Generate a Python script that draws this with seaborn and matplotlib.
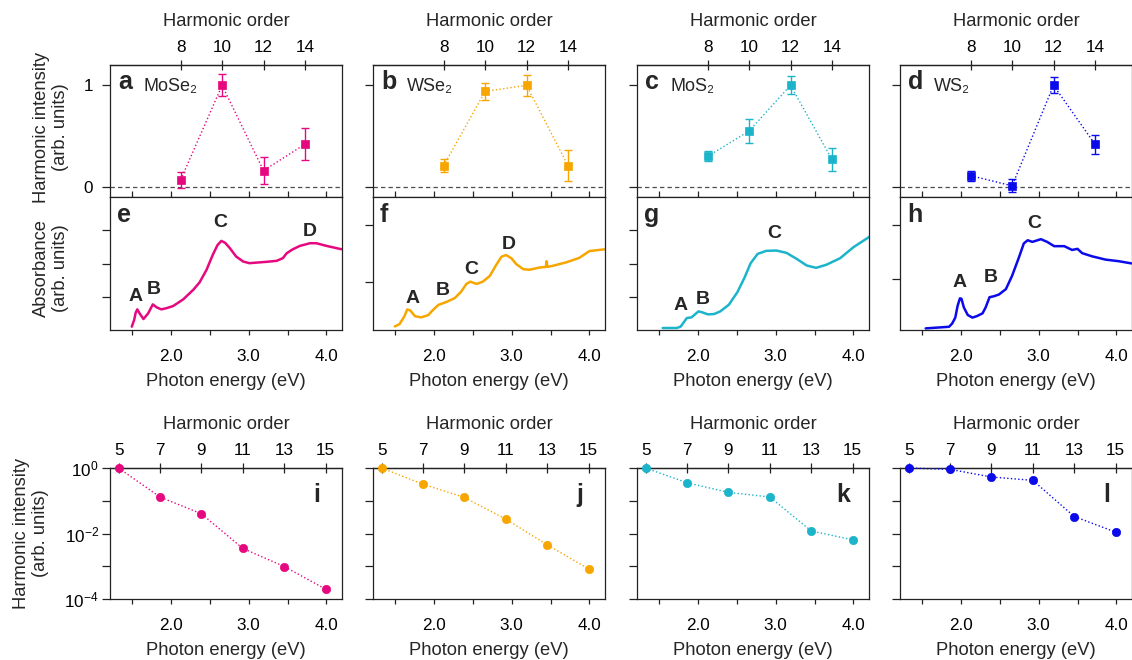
import matplotlib
matplotlib.use("Agg")
import matplotlib.pyplot as plt
from matplotlib.ticker import NullLocator, FixedLocator
import seaborn as sns

MATERIALS = ["MoSe\u2082", "WSe\u2082", "MoS\u2082", "WS\u2082"]
COLORS = ["#E6087F", "#F7A600", "#1CB4CA", "#0A0AEB"]
FUNDAMENTAL = 0.266  # eV, photon energy of the driving laser

# a-d: even harmonics (normalised)
even_orders = [8, 10, 12, 14]
even_int = [
    [0.07, 1.00, 0.16, 0.42],
    [0.21, 0.94, 1.00, 0.21],
    [0.30, 0.55, 1.00, 0.27],
    [0.11, 0.01, 1.00, 0.42],
]
even_err = [
    [0.08, 0.11, 0.13, 0.155],
    [0.06, 0.08, 0.105, 0.15],
    [0.05, 0.12, 0.09, 0.115],
    [0.05, 0.065, 0.08, 0.095],
]

# e-h: absorbance spectra (arb. units)
abs_e_x = [1.50, 1.53, 1.55, 1.57, 1.60, 1.65, 1.71, 1.77, 1.82, 1.88, 1.95, 2.03, 2.16, 2.29,
           2.37, 2.46, 2.54, 2.60, 2.65, 2.70, 2.76, 2.84, 2.93, 3.01, 3.23, 3.36, 3.44, 3.49,
           3.57, 3.66, 3.79, 3.87, 4.00, 4.19]
abs_e_y = [0.10, 0.30, 0.52, 0.62, 0.50, 0.33, 0.50, 0.77, 0.68, 0.62, 0.66, 0.72, 0.92, 1.21,
           1.43, 1.81, 2.26, 2.55, 2.68, 2.62, 2.46, 2.21, 2.06, 2.01, 2.05, 2.08, 2.16, 2.31,
           2.43, 2.53, 2.61, 2.61, 2.53, 2.43]
abs_f_x = [1.50, 1.56, 1.62, 1.66, 1.70, 1.76, 1.84, 1.93, 1.99, 2.06, 2.16, 2.27, 2.35, 2.42,
           2.47, 2.55, 2.63, 2.72, 2.80, 2.87, 2.93, 3.00, 3.06, 3.15, 3.23, 3.36, 3.44, 3.45,
           3.46, 3.53, 3.70, 3.87, 4.00, 4.19]
abs_f_y = [0.21, 0.25, 0.38, 0.51, 0.49, 0.39, 0.37, 0.41, 0.50, 0.59, 0.64, 0.71, 0.82, 0.96,
           1.00, 0.96, 1.00, 1.10, 1.29, 1.44, 1.47, 1.41, 1.31, 1.22, 1.21, 1.25, 1.26, 1.36,
           1.26, 1.28, 1.34, 1.42, 1.54, 1.57]
abs_g_x = [1.55, 1.73, 1.78, 1.82, 1.86, 1.92, 1.96, 2.01, 2.06, 2.13, 2.21, 2.29, 2.40, 2.51,
           2.60, 2.68, 2.77, 2.88, 3.01, 3.14, 3.27, 3.40, 3.52, 3.65, 3.83, 4.00, 4.21]
abs_g_y = [0.06, 0.06, 0.10, 0.23, 0.36, 0.38, 0.46, 0.56, 0.53, 0.47, 0.48, 0.56, 0.76, 1.14,
           1.57, 2.01, 2.29, 2.38, 2.39, 2.32, 2.14, 1.94, 1.87, 1.96, 2.16, 2.49, 2.81]
abs_h_x = [1.55, 1.85, 1.89, 1.93, 1.96, 1.99, 2.01, 2.04, 2.09, 2.15, 2.21, 2.28, 2.32, 2.37,
           2.43, 2.49, 2.58, 2.66, 2.75, 2.81, 2.86, 2.92, 3.03, 3.11, 3.20, 3.33, 3.43, 3.50,
           3.56, 3.69, 3.86, 4.03, 4.19]
abs_h_y = [0.08, 0.11, 0.17, 0.28, 0.50, 0.64, 0.63, 0.47, 0.33, 0.28, 0.31, 0.36, 0.47, 0.66,
           0.68, 0.71, 0.81, 1.06, 1.41, 1.66, 1.72, 1.69, 1.74, 1.69, 1.61, 1.61, 1.54, 1.56,
           1.48, 1.42, 1.36, 1.33, 1.29]
abs_x = [abs_e_x, abs_f_x, abs_g_x, abs_h_x]
abs_y = [abs_e_y, abs_f_y, abs_g_y, abs_h_y]
abs_ylim = [(0, 4.0), (0.147, 2.494), (0, 4.0), (0.05, 2.525)]
abs_yticks = [[1, 2, 3], [1, 2], [1, 2, 3], [1, 2]]

# exciton labels (name, energy, absorbance)
peak_labels = [
    [("A", 1.55, 1.00), ("B", 1.78, 1.21), ("C", 2.63, 3.22), ("D", 3.79, 2.96)],
    [("A", 1.73, 0.71), ("B", 2.12, 0.84), ("C", 2.48, 1.22), ("D", 2.97, 1.65)],
    [("A", 1.78, 0.73), ("B", 2.06, 0.93), ("C", 2.98, 2.89)],
    [("A", 1.98, 0.94), ("B", 2.385, 1.02), ("C", 2.94, 2.03)],
]

# i-l: odd harmonics (normalised, log scale)
odd_orders = [5, 7, 9, 11, 13, 15]
odd_int = [
    [1.0, 0.13, 0.040, 0.0035, 9.8e-4, 2.0e-4],
    [1.0, 0.32, 0.126, 0.0275, 0.0045, 8.3e-4],
    [1.0, 0.355, 0.18, 0.13, 0.012, 0.0064],
    [1.0, 0.91, 0.53, 0.42, 0.033, 0.011],
]

LETTERS = [["a", "b", "c", "d"], ["e", "f", "g", "h"], ["i", "j", "k", "l"]]

sns.set_theme(style="ticks")
plt.rcParams["font.family"] = ["Liberation Sans", "DejaVu Sans"]
plt.rcParams["mathtext.fontset"] = "custom"
plt.rcParams["mathtext.rm"] = "Liberation Sans"
plt.rcParams["mathtext.it"] = "Liberation Sans:italic"
plt.rcParams["mathtext.bf"] = "Liberation Sans:bold"
plt.rcParams["axes.linewidth"] = 0.9
plt.rcParams["axes.edgecolor"] = "#222222"
plt.rcParams["xtick.color"] = "#222222"
plt.rcParams["ytick.color"] = "#222222"
plt.rcParams["xtick.labelcolor"] = "black"
plt.rcParams["ytick.labelcolor"] = "black"

W, H = 1132, 660
COL_X = [110, 373, 637, 900]
PANEL_W = 232
ROWS = [(65, 197), (197, 330), (468, 599)]
XLIM = (1.22, 4.2)
TICK_FS = 12.3
LABEL_FS = 13.2
LETTER_FS = 18
PEAK_FS = 14


def box(col, row):
    top, bot = ROWS[row]
    return [COL_X[col] / W, 1 - bot / H, PANEL_W / W, (bot - top) / H]


def energy_axis(ax, labels):
    ax.set_xlim(*XLIM)
    ax.set_xticks([2, 3, 4])
    ax.xaxis.set_minor_locator(FixedLocator([1.5, 2.5, 3.5]))
    if labels:
        ax.set_xticklabels(["2.0", "3.0", "4.0"])
        ax.tick_params(axis="x", which="both", direction="out", length=3.5, width=0.9,
                       pad=10, labelsize=TICK_FS)
        ax.set_xlabel("Photon energy (eV)", fontsize=LABEL_FS, labelpad=7)
    else:
        ax.tick_params(axis="x", which="both", direction="in", length=4, width=0.9,
                       labelbottom=False)


def order_axis(ax, orders):
    sec = ax.secondary_xaxis("top", functions=(lambda e: e / FUNDAMENTAL,
                                               lambda n: n * FUNDAMENTAL))
    sec.set_xticks(orders)
    sec.set_xticklabels([str(n) for n in orders])
    sec.xaxis.set_minor_locator(NullLocator())
    sec.tick_params(axis="x", direction="inout", length=6.5, width=0.9, pad=4,
                    labelsize=TICK_FS)
    sec.set_xlabel("Harmonic order", fontsize=LABEL_FS, labelpad=10)


fig = plt.figure(figsize=(W / 100, H / 100), dpi=100)

for i in range(4):
    color = COLORS[i]

    # top row: even harmonics
    ax = fig.add_axes(box(i, 0))
    e_even = [n * FUNDAMENTAL for n in even_orders]
    ax.axhline(0, color="0.3", lw=0.9, ls=(0, (3.5, 2.5)), zorder=1)
    ax.errorbar(e_even, even_int[i], yerr=even_err[i], fmt="none", ecolor=color,
                elinewidth=1.0, capsize=2.6, capthick=1.0, zorder=2)
    sns.lineplot(x=e_even, y=even_int[i], ax=ax, color=color, lw=1.0, linestyle=":",
                 marker="s", markersize=5.5, markeredgecolor=color, markeredgewidth=0.5,
                 zorder=3)
    ax.set_ylim(-0.1, 1.2)
    ax.set_yticks([0, 1])
    ax.tick_params(axis="y", direction="out", length=6, width=0.9, pad=6,
                   labelsize=TICK_FS, labelleft=(i == 0))
    energy_axis(ax, labels=False)
    order_axis(ax, even_orders)
    ax.text(0.035, 0.815, LETTERS[0][i], transform=ax.transAxes, fontsize=LETTER_FS,
            fontweight="bold", va="baseline", ha="left")
    ax.text(0.145, 0.80, MATERIALS[i], transform=ax.transAxes,
            fontsize=13, va="baseline", ha="left")

    # middle row: absorbance
    ax = fig.add_axes(box(i, 1))
    sns.lineplot(x=abs_x[i], y=abs_y[i], ax=ax, color=color, lw=1.8)
    ax.set_ylim(*abs_ylim[i])
    ax.set_yticks(abs_yticks[i])
    ax.set_yticklabels([])
    ax.tick_params(axis="y", direction="out", length=6, width=0.9)
    energy_axis(ax, labels=True)
    for name, px, py in peak_labels[i]:
        ax.text(px, py, name, fontsize=PEAK_FS, fontweight="bold", ha="center", va="center")
    ax.text(0.03, 0.81, LETTERS[1][i], transform=ax.transAxes, fontsize=LETTER_FS,
            fontweight="bold", va="baseline", ha="left")

    # bottom row: odd harmonics, log scale
    ax = fig.add_axes(box(i, 2))
    ax.set_yscale("log")
    e_odd = [n * FUNDAMENTAL for n in odd_orders]
    sns.lineplot(x=e_odd, y=odd_int[i], ax=ax, color=color, lw=1.0, linestyle=":",
                 marker="o", markersize=6, markeredgecolor=color, markeredgewidth=0.5,
                 clip_on=False, zorder=3)
    ax.set_ylim(1e-4, 1)
    ax.set_yticks([1e-4, 1e-3, 1e-2, 1e-1, 1])
    ax.yaxis.set_minor_locator(NullLocator())
    if i == 0:
        ax.set_yticklabels(["$10^{-4}$", "", "$10^{-2}$", "", "$10^{0}$"])
    else:
        ax.set_yticklabels([])
    ax.tick_params(axis="y", direction="out", length=6, width=0.9, pad=2,
                   labelsize=TICK_FS)
    energy_axis(ax, labels=True)
    order_axis(ax, odd_orders)
    ax.text(0.89, 0.74, LETTERS[2][i], transform=ax.transAxes, fontsize=LETTER_FS,
            fontweight="bold", va="baseline", ha="center")

ylab = dict(rotation=90, ha="center", va="center", multialignment="center",
            fontsize=LABEL_FS, linespacing=1.2)
fig.text(51 / W, 1 - 127 / H, "Harmonic intensity\n(arb. units)", **ylab)
fig.text(51 / W, 1 - 268 / H, "Absorbance\n(arb. units)", **ylab)
fig.text(31 / W, 1 - 533 / H, "Harmonic intensity\n(arb. units)", **ylab)

fig.savefig("out.png", dpi=100)
